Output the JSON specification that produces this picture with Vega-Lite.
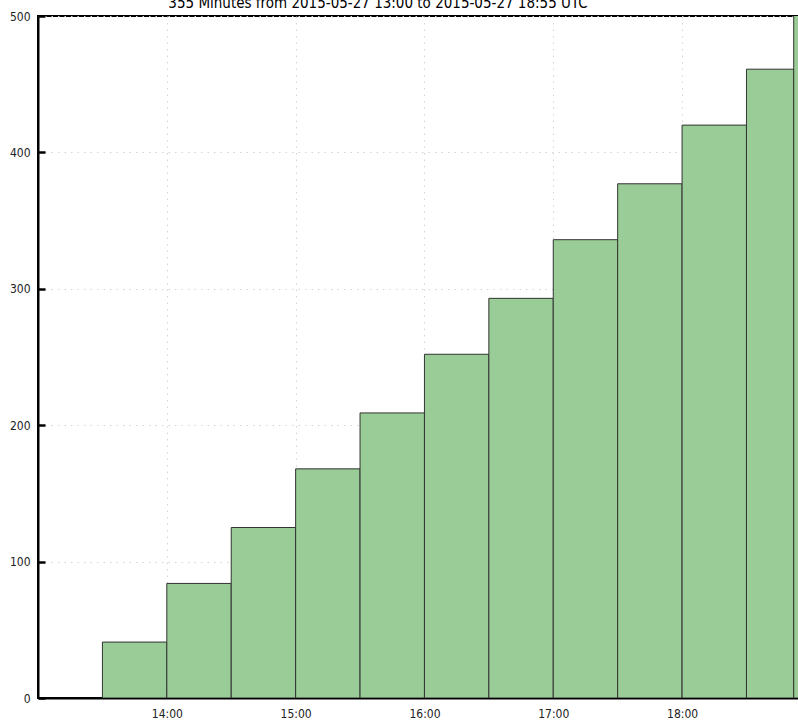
{
  "$schema": "https://vega.github.io/schema/vega-lite/v6.json",
  "width": 760,
  "height": 682,
  "autosize": {"type": "none"},
  "padding": {"left": 38, "top": 16, "right": 0, "bottom": 25},
  "background": "white",
  "title": {
    "text": "355 Minutes from 2015-05-27 13:00 to 2015-05-27 18:55 UTC",
    "font": "DejaVu Sans Condensed",
    "fontSize": 15,
    "fontWeight": "normal",
    "color": "#000000",
    "anchor": "middle",
    "offset": 0,
    "dy": 1,
    "dx": -40
  },
  "config": {
    "view": {"stroke": "#000000", "strokeWidth": 2},
    "axis": {
      "labelFont": "DejaVu Sans Condensed",
      "labelFontSize": 12,
      "labelColor": "#222222",
      "domainColor": "#000000",
      "domainWidth": 2,
      "tickColor": "#000000",
      "tickWidth": 2.5,
      "tickSize": 7,
      "gridColor": "#d4d4d4",
      "gridDash": [1.5, 5],
      "gridWidth": 1,
      "zindex": 1
    }
  },
  "data": {
    "values": [
      {"start": "2015-05-27T13:30:00", "end": "2015-05-27T14:00:00", "count": 41},
      {"start": "2015-05-27T14:00:00", "end": "2015-05-27T14:30:00", "count": 84},
      {"start": "2015-05-27T14:30:00", "end": "2015-05-27T15:00:00", "count": 125},
      {"start": "2015-05-27T15:00:00", "end": "2015-05-27T15:30:00", "count": 168},
      {"start": "2015-05-27T15:30:00", "end": "2015-05-27T16:00:00", "count": 209},
      {"start": "2015-05-27T16:00:00", "end": "2015-05-27T16:30:00", "count": 252},
      {"start": "2015-05-27T16:30:00", "end": "2015-05-27T17:00:00", "count": 293},
      {"start": "2015-05-27T17:00:00", "end": "2015-05-27T17:30:00", "count": 336},
      {"start": "2015-05-27T17:30:00", "end": "2015-05-27T18:00:00", "count": 377},
      {"start": "2015-05-27T18:00:00", "end": "2015-05-27T18:30:00", "count": 420},
      {"start": "2015-05-27T18:30:00", "end": "2015-05-27T18:52:00", "count": 461},
      {"start": "2015-05-27T18:52:00", "end": "2015-05-27T19:00:00", "count": 503}
    ]
  },
  "resolve": {"axis": {"x": "independent", "y": "independent"}},
  "layer": [
    {
      "mark": {"type": "rect", "fill": "#99cc96", "stroke": "#333333", "strokeWidth": 1, "clip": true},
      "encoding": {
        "x": {
          "field": "start", "type": "temporal",
          "scale": {"domain": [{"year": 2015, "month": 5, "date": 27, "hours": 13, "minutes": 0}, {"year": 2015, "month": 5, "date": 27, "hours": 18, "minutes": 54}]},
          "axis": {
            "title": null, "format": "%H:%M", "grid": true, "ticks": false, "labelPadding": 10, "orient": "bottom",
            "values": [
              {"year": 2015, "month": 5, "date": 27, "hours": 14},
              {"year": 2015, "month": 5, "date": 27, "hours": 15},
              {"year": 2015, "month": 5, "date": 27, "hours": 16},
              {"year": 2015, "month": 5, "date": 27, "hours": 17},
              {"year": 2015, "month": 5, "date": 27, "hours": 18}
            ]
          }
        },
        "x2": {"field": "end"},
        "y": {
          "field": "count", "type": "quantitative",
          "scale": {"domain": [0, 500], "nice": false},
          "axis": {"title": null, "values": [0, 100, 200, 300, 400, 500], "grid": true, "ticks": false, "labelPadding": 8, "orient": "left"}
        }
      }
    },
    {
      "mark": {"type": "rect", "opacity": 0},
      "encoding": {
        "x": {
          "field": "start", "type": "temporal",
          "scale": {"domain": [{"year": 2015, "month": 5, "date": 27, "hours": 13, "minutes": 0}, {"year": 2015, "month": 5, "date": 27, "hours": 18, "minutes": 54}]},
          "axis": {
            "title": null, "labels": false, "grid": false, "domain": false, "ticks": true, "orient": "top", "offset": -682,
            "values": [
              {"year": 2015, "month": 5, "date": 27, "hours": 14},
              {"year": 2015, "month": 5, "date": 27, "hours": 15},
              {"year": 2015, "month": 5, "date": 27, "hours": 16},
              {"year": 2015, "month": 5, "date": 27, "hours": 17},
              {"year": 2015, "month": 5, "date": 27, "hours": 18}
            ]
          }
        },
        "x2": {"field": "end"},
        "y": {
          "field": "count", "type": "quantitative",
          "scale": {"domain": [0, 500], "nice": false},
          "axis": {"title": null, "values": [0, 100, 200, 300, 400, 500], "labels": false, "grid": false, "domain": false, "ticks": true, "orient": "right", "offset": -760}
        }
      }
    }
  ]
}
